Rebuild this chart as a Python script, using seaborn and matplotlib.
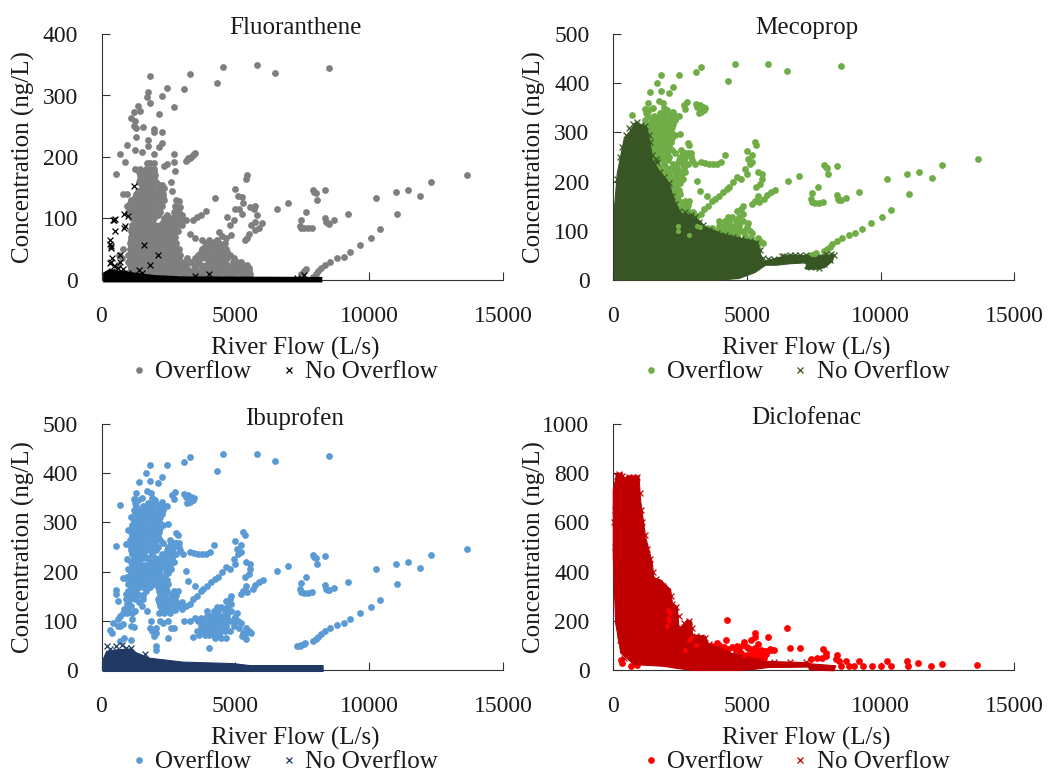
import matplotlib
matplotlib.use("Agg")
import matplotlib.pyplot as plt
from matplotlib.lines import Line2D
import seaborn as sns

# ---------- shared upper-tail points: river flow (L/s) ----------
tail_flow = [13650,12300,11900,11450,11000,11050,10250,10400,10050,9650,9300,9050,8800,8550,8350,8200,8100,8000,7900,
             9200,8700,8350,8400,8450,8500,7900,7950,8000,8050,8350,7650,7450,7400,7450,7550,7700,7850,6950,6550,
             5800,4550,6500,8500,4300,3300,3100,2450]
tail_ibu = [246,233,208,220,216,174,205,143,128,115,104,95,91,86,80,73,68,63,58,
            179,167,172,165,162,163,234,230,228,215,231,190,177,165,158,157,157,158,212,202,
            440,440,425,435,405,432,422,417]
tail_flu = [171,160,137,147,143,108,133,83,69,57,46,38,35,30,25,20,15,10,5,
            108,98,100,95,92,91,147,143,141,130,146,110,97,88,84,84,85,84,126,115,
            349,346,337,344,320,335,311,313]

# ---------- Ibuprofen / Mecoprop overflow ----------
ibu_points = [(7300,48),(7400,49),(7450,50),(7550,53),(7600,55),(1800,416),(1650,400),(2250,392),(2100,380),(1800,384),(1400,382),(700,335),
    (2750,362),(2700,348),(2650,356),(3100,358),(3250,356),(3350,352),(3450,350),(3300,342),(3200,340),(3150,352),(3400,345),
    (1300,360),(1350,345),(1200,348),(1500,350),(1700,364),(1850,360),(1900,350),(2000,345),(2250,342),(2350,333),(2450,333),
    (2500,297),(2800,278),(2850,275),(2550,265),(2700,258),(2900,258),(3300,240),(3450,237),(3600,236),(3750,235),(3900,235),(4050,240),(4200,254),
    (3150,202),(3250,180),(3500,170),(3000,125),(3150,130),(3300,135),(3400,145),(3550,150),(3700,160),(3800,165),(3950,170),(4100,178),(4250,185),
    (4350,190),(4500,200),(4650,210),(4800,205),(4950,225),(5000,215),(5100,235),(5200,240),(5200,255),(5000,262),(5050,245),(5300,280),(5350,275),
    (5400,220),(5550,215),(5550,205),(5500,195),(5350,190),(5400,170),(5300,160),(5200,155),(5450,158),(5750,172),(5900,178),(6050,182),(5650,165),
    (3100,100),(3300,100),(3500,105),(3700,105),(3400,68),(4000,45),(2050,40),(2050,48),(2500,65),(4650,140),(4800,145),(4850,135),(4850,150),(4650,120),
    (4850,120),(4900,100),(5000,108),(5050,115),(5100,100),(4950,90),(5150,85),(5200,95),(5400,75),(5400,85),(5500,80),(5600,75),(5300,75),(5250,70),(5400,62),
    (300,82),(400,75),(420,95),(600,103),(700,110),(600,90),(700,90),(800,93),(1200,88),(1100,90),(1150,103),(1250,120),(1000,125),(850,125),(950,135),
    (600,140),(550,155),(550,162),(550,253),(900,257),(950,225),(900,188),(800,188),(1000,285),(900,155),(850,65),(1100,60),(700,58),(1700,120),(1850,100),
    (1900,80),(1950,70),(2050,85),(1950,78),(2200,100),(2300,95),(2500,100),(2600,85),(2700,85),(1800,85),(2050,75)]
ibu_rows = {340:[1250,1750,1850,2000], 333:[1300,1550,1700,1900,2150], 325:[1200,1450,1650,1800,1950,2100,2300], 318:[1250,1400,1550,1700,1900,2050,2250],
    310:[1100,1350,1500,1650,1800,2000,2200], 303:[1200,1400,1600,1750,1950,2150], 295:[1150,1300,1450,1600,1750,1900,2100,2300], 288:[1150,1350,1500,1650,1800,2000,2200],
    280:[1100,1250,1400,1550,1700,1850,2050,2150], 272:[1150,1300,1450,1600,1750,1900,2100], 265:[1050,1200,1350,1500,1650,1800,1950,2200],
    258:[1100,1300,1450,1600,1750,2000,2300,2600,2800], 250:[1100,1250,1400,1550,1700,1850,2100,2500,2700,2900], 243:[1100,1200,1350,1500,1650,1800,2050,2450,2650,2950],
    235:[1150,1300,1450,1600,1900,2250,2400,2600,2800,3050], 228:[1200,1350,1500,1650,1750,2000,2200,2400,2650],
    220:[1100,1250,1400,1800,1950,2100,2300,2500,2700], 213:[1150,1300,1450,1600,1750,1900,2100,2350,2550], 205:[1000,1200,1350,1500,1700,1850,2000,2200,2400,2600],
    197:[1100,1300,1450,1550,1650,1800,1950,2150,2400,2500], 190:[950,1100,1250,1400,1600,1750,1900,2050,2150,2350], 183:[1050,1200,1350,1450,1550,1700,1850,2000,2250,2450],
    175:[1000,1150,1300,1500,1700,1950,2150,2300,2500], 168:[1100,1250,1400,1550,1800,2100,2250,2400],
    160:[1000,1150,1300,1650,2150,2300,2450,2700,2850], 152:[1100,1200,1400,1550,2200,2350,2600,2800], 145:[900,1050,1250,1550,2100,2250,2400,2550,2750],
    138:[1000,1400,2150,2300,2450,2650,2800,3000], 130:[1100,1500,2200,2350,2500,2700,2900,3050], 122:[2250,2450,2600,2750], 115:[800,950,1150,2150,2350,2550],
    128:[4300,4450,4700], 120:[3950,4200,4350,4600,4750], 110:[3950,4100,4250,4400,4550,4700], 100:[3600,3800,4000,4150,4300,4450,4600,4800],
    90:[3700,3900,4050,4200,4350,4500,4650], 80:[3550,3750,3900,4100,4250,4450,4600,4800], 72:[3650,3850,4000,4200,4400], 65:[4250,4450,4650]}

# ---------- Fluoranthene overflow ----------
flu_points = [(1800,331),(1750,305),(1700,297),(1800,287),(2250,299),(2130,270),(2700,282),(1380,283),(1430,275),(1100,264),(1200,273),(1250,258),(1200,250),
    (1300,247),(1550,248),(1950,245),(1950,240),(2250,240),(2250,222),(2150,217),(1750,228),(1750,218),(1300,232),(1250,212),(1500,208),(1950,205),(2700,205),
    (2700,192),(2350,185),(2450,188),(2750,178),(2600,159),(950,219),(680,205),(860,192),(530,172),(3150,193),(3200,195),(3250,198),(3300,199),(3350,200),
    (3400,203),(3450,205),(3500,206),(2150,155),(2300,150),(2650,145),(2800,130),(2900,128),(2750,110),(2950,118),(3000,105),(3150,98),(3400,98),(3550,102),
    (3700,105),(3900,113),(4250,133),(3300,74),(3500,68),(3750,65),(4400,78),(4500,72),(4200,62),(4650,68),(4850,73),(4800,90),(4700,103),(4950,98),(5000,115),
    (5150,115),(5250,108),(5000,148),(5100,137),(5250,135),(5400,165),(5450,170),(5300,125),(5550,118),(5700,115),(5750,120),(5800,105),(5750,95),(5600,90),
    (5750,82),(5900,85),(6000,92),(5500,75),(5350,65),(5450,68),(7650,18),(7550,15),(7450,10),(800,50),(650,40),(750,35),(600,25)]
flu_rows = {190:[1700,1800,1950], 180:[1250,1450,1650,1800,1950], 175:[1400,1550,1700,1850,1950], 170:[1450,1600,1750,1900,2000], 165:[1450,1650,1800,1950],
    160:[1400,1550,1700,1850,2050], 155:[1500,1650,1800,2000,2250], 150:[1500,1700,1850,2200,2350], 145:[1350,1550,1750,1950,2150],
    140:[800,950,1300,1500,1700,1850,2050,2300], 135:[1250,1400,1550,1700,1900,2100,2300], 130:[1100,1300,1450,1600,1800,1950,2150,2350],
    125:[1050,1200,1350,1500,1650,1850,2000,2200], 120:[950,1100,1250,1400,1550,1700,1900,2100,2250,2750], 115:[1150,1300,1450,1600,1750,1900,2150,2800],
    110:[1000,1200,1350,1500,1650,1800,2000,2200,2700,2900], 105:[1200,1400,1550,1700,1850,2100,2450,2750,2900],
    100:[1150,1300,1450,1600,1750,1950,2350,2500,2650,2800,3000], 95:[1250,1400,1550,1700,1900,2300,2450,2600,2750,2950],
    90:[1150,1300,1450,1600,1800,2000,2200,2400,2550,2700,2850,3000], 85:[1150,1350,1500,1650,1750,1950,2150,2300,2500,2650,2800],
    80:[1100,1250,1400,1550,1700,1850,2050,2250,2400,2550,2700,2850], 75:[1150,1300,1500,1650,1850,2050,2200,2400,2550,2700],
    70:[1100,1250,1400,1600,1750,1950,2150,2300,2450,2600,2750], 65:[1100,1300,1450,1600,1800,2000,2200,2350,2500,2700,4000,4300],
    60:[1050,1200,1350,1500,1700,1900,2100,2250,2400,2600,2800,3900,4100,4250,4400,4600], 55:[1100,1250,1450,1650,1850,2050,2200,2350,2550,2750,3850,4050,4200,4400,4550],
    50:[1050,1200,1350,1550,1750,1950,2150,2300,2500,2700,2900,3750,3950,4100,4300,4500,4650], 45:[1100,1250,1450,1650,1850,2050,2250,2450,2650,2850,3700,3900,4100,4300,4450,4700],
    40:[1000,1150,1300,1500,1700,1900,2100,2350,2550,2750,2950,3600,3800,4000,4200,4400,4550,4800], 35:[1050,1250,1450,1650,1850,2050,2300,2500,2700,2900,3200,3500,3700,3900,4100,4300,4500,4700,4950],
    30:[1000,1150,1350,1550,1750,1950,2200,2450,2650,2850,3100,3350,3600,4000,4200,4400,4600,4900,5050,5200], 25:[1050,1250,1450,1650,1850,2050,2250,2500,2750,2950,3150,3450,3700,3900,4100,4300,4500,4700,4900,5100,5300,5450],
    20:[1100,1300,1500,1700,1900,2100,2300,2550,2800,3000,3200,3500,3750,3950,4150,4350,4550,4750,4950,5150,5350,5500], 15:[1050,1250,1450,1650,1850,2050,2250,2450,2700,2900,3100,3300,3500,3700,3900,4100,4300,4500,4700,4900,5100,5300,5500],
    10:[1000,1200,1400,1600,1800,2000,2200,2400,2600,2800,3000,3200,3400,3600,3800,4000,4200,4400,4600,4800,5000,5200,5400,5550]}

# ---------- Fluoranthene no overflow ----------
flu_no = [(1200,153),(430,98),(480,97),(500,99),(850,108),(980,104),(830,85),(870,88),(500,80),(330,65),(320,58),(340,52),(370,55),(1600,57),(2100,40),
    (1800,24),(700,40),(400,35),(350,30),(320,28),(450,22),(700,30),(1400,16),(4000,9),(7550,8),(400,15),(600,20),(800,18),(1000,12),(1500,12),(3500,6),(7300,4)]
flu_band_flow = [60,60,300,900,2000,3000,8250,8250]
flu_band_conc = [-4,12,18,14,8,6,5,-4]

# ---------- Mecoprop no overflow ----------
mec_env_flow = [60,60,160,410,850,1280,1430,1470,1780,2090,2280,2530,2780,3280,3400,4020,4590,5400,5540,5640,6140,6640,7390,7890,8260,8200,7900,7640,7200,7250,6600,6100,5700,5300,4700,4000,60]
mec_env_conc = [0,150,217,285,319,308,265,244,217,197,163,136,133,119,109,95,87,78,48,38,45,51,49,51,51,38,25,22,22,35,33,30,30,15,3,0,0]
mec_no = [(900,322),(1600,245),(1650,240),(2100,197),(2300,145),(2450,140),(2900,132),(3050,128),(8250,50),(8150,53),(7950,52),(7250,30),(7400,26),(7700,24),(7900,32),(8100,40),(6800,50),(6300,48),(6000,42),
    (150,205),(250,250),(330,270),(480,295),(600,308),(750,318),(1050,316),(1200,312),(1330,295),(1400,280),(1450,255),(1550,235),(1750,220),(1900,210),(2000,190),(2200,170),(2300,155),(2400,135),
    (2600,130),(2700,138),(2850,130),(3200,118),(3350,112),(3600,102),(3900,96),(4200,92),(4500,88),(4800,84),(5100,80),(5350,76),(5500,60),(5600,45),(5800,42),(6400,48),(6600,50),(7000,50),(7200,50)]
mec_patches = [(2430,109),(2420,100),(2850,92),(3150,109),(3250,108),(7450,52),(7550,53),(7600,55)]

# ---------- Ibuprofen no overflow ----------
ibu_env_flow = [60,60,190,560,1120,1300,1800,3050,4920,5540,8280,8280,60]
ibu_env_conc = [11,21,38,41,43,35,24,16,13,9,9,-3,-3]
ibu_no = [(750,51),(190,49),(1620,32),(560,48),(1100,45),(300,42),(900,44)]

# ---------- Diclofenac ----------
dic_env_flow = [140,350,410,535,970,1030,1220,1470,1530,1780,2155,2220,2400,2470,2780,2940,2970,3460,3530,4400,5400,5640,7300,7400,8320,8260,7350,7300,5800,5300,4700,3000,2300,1900,780,290,100,10,10]
dic_env_conc = [800,800,772,789,789,690,540,434,373,366,326,272,258,164,204,197,143,137,110,69,42,35,30,25,17,-3,0,12,10,3,-2,-2,8,15,22,69,191,461,730]
dic_no = [(150,790),(230,795),(320,790),(450,780),(600,785),(750,785),(900,785),(1000,720),(1050,650),(1100,600),(1180,550),(1280,490),(1400,450),(1500,400),(1600,370),(1700,355),(1850,340),(2000,320),
    (2150,300),(2200,270),(2350,255),(2450,220),(2500,175),(2650,190),(2850,200),(2950,170),(3100,140),(3300,135),(3450,130),(3600,105),(3900,90),(4200,75),(4600,60),(5000,50),(5400,42),(6000,33),
    (6600,32),(7200,33),(60,650),(30,600),(60,500),(120,300),(200,200),(280,120),(400,50)]
dic_over = [(4270,205),(6515,170),(5310,150),(5310,134),(5790,134),(4240,123),(6620,89),(7000,88),(7850,87),(7950,69),(7950,55),(8350,60),(8320,45),(8450,35),
    (8700,38),(9200,38),(10250,38),(10980,35),(11400,30),(12310,26),(13600,22),(11890,18),(11010,16),(10380,15),(10030,15),(9660,15),(9350,15),(9010,15),
    (8820,15),(8510,15),(7410,45),(7640,47),(7820,47),(5890,82),(6020,80),(5770,76),(5520,82),(5400,107),(5150,120),(4900,115),(5050,89),(5270,55),(5520,55),
    (4650,99),(4460,93),(4150,93),(3900,110),(3680,96),(4770,69),(5640,49),(290,42),(350,28),(660,18),(910,22),
    (3950,100),(4050,95),(4300,85),(4550,90),(4700,88),(4850,100),(5000,95),(5100,85),(5200,75),(5300,90),(5450,72),(5550,68),(5700,65),(5650,78),(5850,85),(4600,80),(5000,60),(5200,62),(5400,50)]
dic_patches = [(2050,245),(2120,230),(2050,210),(2000,180),(2080,200),(2900,130),(2850,120),(3100,100),(2700,80),(5400,62),(5250,70),(5550,65),(4900,60)]

# ---------- layout ----------
PANELS = ["Fluoranthene", "Mecoprop", "Ibuprofen", "Diclofenac"]
Y_MAX = [400, 500, 500, 1000]
Y_STEP = [100, 100, 100, 200]
X_TICKS = [0, 5000, 10000, 15000]
W, H = 1048, 772


def expand(points, rows):
    xs = [p[0] for p in points]
    ys = [p[1] for p in points]
    for conc, flows in rows.items():
        xs += flows
        ys += [conc] * len(flows)
    return xs, ys


sns.set_theme(style="white")
plt.rcParams["font.family"] = ["Liberation Serif", "DejaVu Serif"]
plt.rcParams["text.color"] = "#1a1a1a"

fig = plt.figure(figsize=(W / 100, H / 100), dpi=100, facecolor="white")
boxes = [(101.5, 34), (613, 34), (101.5, 424), (613, 424)]
axes = [fig.add_axes([l / W, 1 - (t + 246) / H, 401.5 / W, 246 / H]) for l, t in boxes]


def dots(ax, xs, ys, color, z=2, size=24):
    sns.scatterplot(x=xs, y=ys, color=color, marker="o", s=size, linewidth=0, ax=ax, zorder=z, clip_on=False)


def crosses(ax, pts, color):
    sns.scatterplot(x=[p[0] for p in pts], y=[p[1] for p in pts], color=color, marker="x", s=18, linewidth=0.9, ax=ax, zorder=4, clip_on=False)


ibu_x, ibu_y = expand(ibu_points, ibu_rows)
flu_x, flu_y = expand(flu_points, flu_rows)

# Fluoranthene
ax = axes[0]
dots(ax, tail_flow + flu_x, tail_flu + flu_y, "#7F7F7F")
ax.fill(flu_band_flow, flu_band_conc, color="black", lw=0, zorder=3, clip_on=False)
crosses(ax, flu_no, "black")

# Mecoprop
ax = axes[1]
dots(ax, tail_flow + ibu_x, tail_ibu + ibu_y, "#70AD47")
ax.fill(mec_env_flow, mec_env_conc, color="#375623", lw=0.8, zorder=3, clip_on=False)
crosses(ax, mec_no, "#375623")
dots(ax, [p[0] for p in mec_patches], [p[1] for p in mec_patches], "#70AD47", z=5, size=14)

# Ibuprofen
ax = axes[2]
dots(ax, tail_flow + ibu_x, tail_ibu + ibu_y, "#5B9BD5")
ax.fill(ibu_env_flow, ibu_env_conc, color="#1F3864", lw=0.8, zorder=3, clip_on=False)
crosses(ax, ibu_no, "#1F3864")

# Diclofenac
ax = axes[3]
dots(ax, [p[0] for p in dic_over], [p[1] for p in dic_over], "#FF0000")
ax.fill(dic_env_flow, dic_env_conc, color="#C00000", lw=0.8, zorder=3, clip_on=False)
crosses(ax, dic_no, "#C00000")
dots(ax, [p[0] for p in dic_patches], [p[1] for p in dic_patches], "#FF0000", z=5, size=12)

colors = [("#7F7F7F", "black"), ("#70AD47", "#375623"), ("#5B9BD5", "#1F3864"), ("#FF0000", "#C00000")]
FS = 18
for i, ax in enumerate(axes):
    ax.set_xlim(0, 15000)
    ax.set_ylim(0, Y_MAX[i])
    ax.set_xticks(X_TICKS)
    ax.set_yticks(list(range(0, Y_MAX[i] + 1, Y_STEP[i])))
    sns.despine(ax=ax)
    for s in ("left", "bottom"):
        ax.spines[s].set_color("#333333")
        ax.spines[s].set_linewidth(0.8)
    ax.tick_params(axis="both", direction="in", length=5.8, width=0.8, color="#333333", labelsize=17, labelcolor="#1a1a1a", left=True, bottom=True)
    ax.tick_params(axis="x", pad=18.5)
    ax.tick_params(axis="y", pad=17)
    ax.set_xlabel("River Flow (L/s)", fontsize=FS, x=0.482, labelpad=7, color="#1a1a1a")
    ax.set_ylabel("Concentration (ng/L)", fontsize=FS, color="#1a1a1a")
    ax.yaxis.set_label_coords(-0.166, 0.5)
    ax.text(0.482, 1.024, PANELS[i], transform=ax.transAxes, ha="center", va="center", fontsize=FS)
    handles = [Line2D([], [], ls="", marker="o", ms=4.8, mew=0, color=colors[i][0], label="Overflow"),
               Line2D([], [], ls="", marker="x", ms=4, mew=0.9, color=colors[i][1], label="No Overflow")]
    ax.legend(handles=handles, ncol=2, frameon=False, fontsize=FS, loc="center", bbox_to_anchor=(0.447, -0.375),
              handletextpad=0.05, columnspacing=0.9, handlelength=1.2, borderpad=0)

fig.savefig("out.png", dpi=100, facecolor="white")
